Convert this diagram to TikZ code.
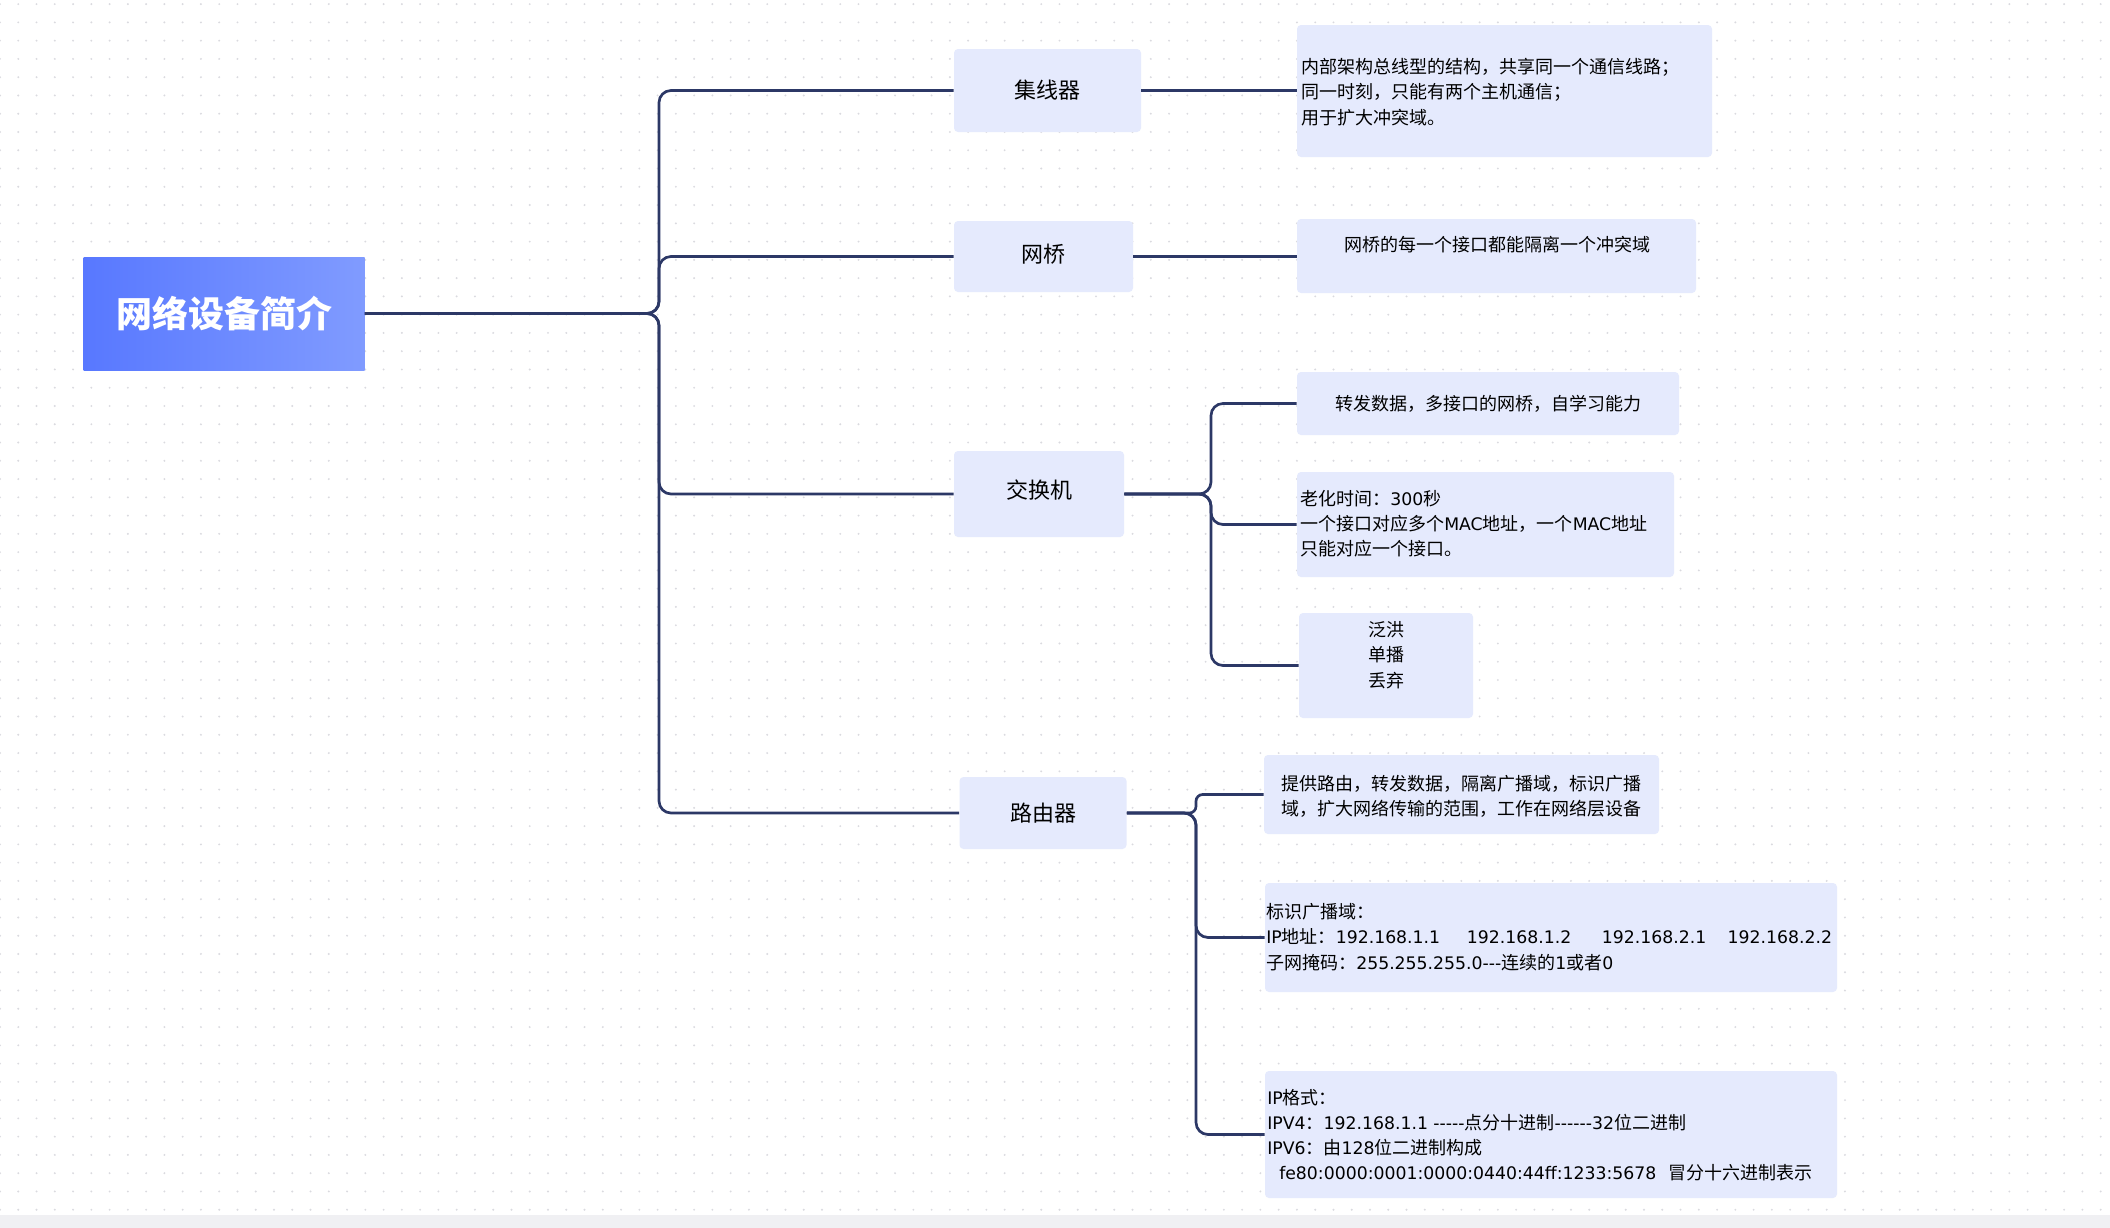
\documentclass[tikz,border=0pt]{standalone}
\usepackage{fontspec}
\setmainfont{DejaVu Sans}[Scale=0.96, Ligatures=TeXOff]
\newfontfamily\cjkf{Noto Sans CJK SC}[Ligatures=TeXOff]
% switch automatically between the Latin font and the CJK font
\XeTeXinterchartokenstate=1
\newXeTeXintercharclass\CJKclass
\newcount\cjkc
\cjkc="3000
\loop\XeTeXcharclass\cjkc=\CJKclass\relax\ifnum\cjkc<"9FFF\advance\cjkc by 1\repeat
\cjkc="FF00
\loop\XeTeXcharclass\cjkc=\CJKclass\relax\ifnum\cjkc<"FFEF\advance\cjkc by 1\repeat
\XeTeXinterchartoks 0 \CJKclass={\cjkf}
\XeTeXinterchartoks 4095 \CJKclass={\cjkf}
\XeTeXinterchartoks \CJKclass 0={\rmfamily}
\XeTeXinterchartoks 4095 0={\rmfamily}
\usetikzlibrary{patterns.meta}
\definecolor{lineC}{RGB}{44,56,102}
\definecolor{boxC}{RGB}{229,234,253}
\definecolor{rootL}{RGB}{88,120,255}
\definecolor{rootR}{RGB}{128,155,255}
\definecolor{dotC}{RGB}{218,218,223}
\definecolor{stripC}{RGB}{240,240,243}
\begin{document}
\begin{tikzpicture}[x=0.75pt,y=-0.75pt,
  sz/.style 2 args={minimum width=#1*0.75pt, minimum height=#2*0.75pt},
  box/.style={fill=boxC, rounded corners=3pt, inner sep=0pt},
  lvl1/.style={box, font=\fontsize{16.5}{20}\selectfont},
  desc/.style={inner sep=0pt, font=\fontsize{13.5}{18.9}\selectfont},
  conn/.style={draw=lineC, line width=2pt, rounded corners=9pt},
  straight/.style={draw=lineC, line width=2pt},
]
% background
\fill[white] (0,0) rectangle (2110,1228);
\fill[pattern={Dots[distance=13.7pt,radius=0.8pt]}, pattern color=dotC] (0,0) rectangle (2110,1215);
\fill[stripC] (0,1215) rectangle (2110,1228);
\useasboundingbox (0,0) rectangle (2110,1228);

% root
\node[sz={281}{113}, inner sep=0pt, left color=rootL, right color=rootR, text=white,
      font=\fontsize{27}{30}\selectfont\bfseries] (root) at (224,313.5) {网络设备简介};

% level 1
\node[lvl1, sz={187}{83}] (hub) at (1047.5,90.5) {集线器};
\node[lvl1, sz={179}{71}] (bridge) at (1043.5,256.5) {\raisebox{5pt}{网桥}};
\node[lvl1, sz={170}{86}] (switch) at (1039,494) {\raisebox{7pt}{交换机}};
\node[lvl1, sz={167}{72}] (router) at (1043,813) {路由器};

% level 2 boxes
\node[box, sz={415}{132}] (hubD) at (1504.5,91) {};
\node[box, sz={399}{74}] (bridgeD) at (1496.5,256) {};
\node[box, sz={382}{63}] (sw1) at (1488,403.5) {};
\node[box, sz={377}{105}] (sw2) at (1485.5,524.5) {};
\node[box, sz={174}{105}] (sw3) at (1386,665.5) {};
\node[box, sz={395}{79}] (rt1) at (1461.5,794.5) {};
\node[box, sz={572}{109}] (rt2) at (1551,937.5) {};
\node[box, sz={572}{127}] (rt3) at (1551,1134.5) {};

% level 2 texts
\node[desc, anchor=west, align=left] (hubT) at (1301,92)
  {内部架构总线型的结构，共享同一个通信线路；\\同一时刻，只能有两个主机通信；\\用于扩大冲突域。};
\node[desc] (bridgeT) at (1497,245) {网桥的每一个接口都能隔离一个冲突域};
\node[desc] (sw1T) at (1488,404) {转发数据，多接口的网桥，自学习能力};
\node[desc, anchor=west, align=left] (sw2T) at (1300,524)
  {老化时间：300秒\\一个接口对应多个MAC地址，一个MAC地址\\只能对应一个接口。};
\node[desc, align=center] (sw3T) at (1386,655) {泛洪\\单播\\丢弃};
\node[desc, align=center] (rt1T) at (1461.5,796)
  {提供路由，转发数据，隔离广播域，标识广播\\域，扩大网络传输的范围，工作在网络层设备};
\node[desc, anchor=west, align=left] (rt2T) at (1266,937)
  {标识广播域：\\IP地址：192.168.1.1\hspace{20pt}192.168.1.2\hspace{23pt}192.168.2.1\hspace{16pt}192.168.2.2\\子网掩码：255.255.255.0---连续的1或者0};
\node[desc, anchor=west, align=left] (rt3T) at (1267,1135)
  {IP格式：\\IPV4：192.168.1.1 -----点分十进制------32位二进制\\IPV6：由128位二进制构成\\\hspace*{9pt}fe80:0000:0001:0000:0440:44ff:1233:5678\hspace{9pt}冒分十六进制表示};

% trunks
\coordinate (tr1) at (659,0);
\coordinate (tr2) at (1211,0);
\coordinate (tr3) at (1196,0);

% connectors
\draw[conn] (root.east) -- (root.east -| tr1) |- (hub.west);
\draw[conn] (root.east) -- (root.east -| tr1) |- (bridge.west);
\draw[conn] (root.east) -- (root.east -| tr1) |- (switch.west);
\draw[conn] (root.east) -- (root.east -| tr1) |- (router.west);

\draw[straight] (hub.east) -- (hub.east -| hubD.west);
\draw[straight] (bridge.east) -- (bridge.east -| bridgeD.west);

\draw[conn] (switch.east) -- (switch.east -| tr2) |- (sw1.west);
\draw[conn] (switch.east) -- (switch.east -| tr2) |- (sw2.west);
\draw[conn] (switch.east) -- (switch.east -| tr2) |- (sw3.west);

\draw[conn, rounded corners=5pt] (router.east) -- (router.east -| tr3) |- (rt1.west);
\draw[conn] (router.east) -- (router.east -| tr3) |- (rt2.west);
\draw[conn] (router.east) -- (router.east -| tr3) |- (rt3.west);
\end{tikzpicture}
\end{document}
